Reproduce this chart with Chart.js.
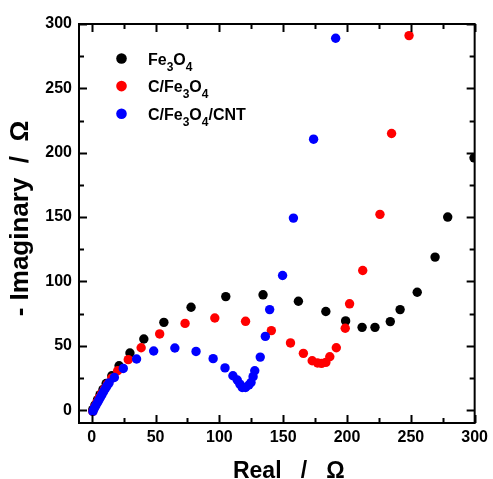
<!DOCTYPE html>
<html>
<head>
<meta charset="utf-8">
<script src="https://cdn.jsdelivr.net/npm/chart.js@4.4.1/dist/chart.umd.min.js"></script>
<style>
  html, body { margin: 0; padding: 0; background: #fff; }
  canvas { display: block; }
</style>
</head>
<body>
<canvas id="nyquist" width="493" height="479"></canvas>
<script>
// Nyquist data: real part (Ω) and negative imaginary part (Ω) for each electrode
const seriesNames = ['Fe3O4', 'C/Fe3O4', 'C/Fe3O4/CNT'];
const seriesColors = ['#000000', '#ff0000', '#0000ff'];

const fe3o4Real = [0.8, 2.5, 4.5, 6.5, 8.8, 11.3, 15.7, 21.4, 29.9, 40.8, 56.5, 77.8, 105, 134.2, 161.9, 183.4, 198.9, 211.8, 221.9, 233.9, 241.6, 255, 269, 278.9, 299.5];
const fe3o4Imag = [0.5, 4, 8, 12, 16, 20.7, 26.7, 34.5, 44.4, 55.3, 68.2, 79.9, 88.2, 89.6, 84.6, 76.6, 69.3, 64.3, 64.3, 68.8, 78.1, 91.6, 118.9, 150, 196];

const cFe3o4Real = [0.8, 2.3, 4, 5.8, 7.8, 10, 12.3, 15.7, 20.3, 28.6, 38.7, 53.2, 73.1, 96.4, 120.5, 140.7, 155.7, 165.8, 172.7, 176.9, 180, 183.4, 186.5, 191.6, 198.6, 202, 212.3, 225.8, 234.9, 248.6];
const cFe3o4Imag = [-1, 2.5, 6, 9.5, 13, 16.5, 20.2, 24.9, 30.6, 39.2, 48.5, 59.2, 67.4, 71.6, 69, 61.8, 52.2, 44.1, 38.4, 36.6, 36.3, 37.1, 41.5, 48.5, 63.6, 82.6, 108.5, 152.1, 214.9, 291];

const cntReal = [0.9, 2.0, 3.2, 4.4, 5.6, 6.8, 8.0, 9.3, 10.6, 12.0, 13.6, 17.7, 24.7, 35.1, 48.5, 65.1, 81.7, 95.1, 104.4, 110.6, 114.0, 116.1, 117.9, 120.5, 123.1, 124.8, 126.4, 127.7, 132, 136, 139.4, 149.5, 158, 173.8, 191.1];
const cntImag = [-1, 1.5, 3.6, 5.7, 7.8, 10, 12.1, 14.4, 16.6, 18.9, 21.2, 25.4, 32.4, 39.7, 45.9, 48.3, 45.6, 40, 32.8, 26.7, 23.4, 20.2, 17.6, 17.6, 19.5, 21.5, 26, 30.6, 41.2, 57.3, 78.1, 104.6, 149.2, 210.5, 288.9];

const xTickValues = [0, 50, 100, 150, 200, 250, 300];
const yTickValues = [0, 50, 100, 150, 200, 250, 300];
const xTitle = 'Real   /   Ω';
const yTitle = '- Imaginary  /  Ω';

const FONT = '"Liberation Sans", Arial, Helvetica, sans-serif';

function toPoints(xs, ys) {
  return xs.map((v, i) => ({ x: v, y: ys[i] }));
}

// Closed frame with inward major/minor ticks on all four sides
const framePlugin = {
  id: 'frame',
  afterDatasetsDraw(chart) {
    const { ctx, chartArea: a, scales: { x, y } } = chart;
    const minorStep = 25, major = 8, minor = 5;
    ctx.save();
    ctx.strokeStyle = '#000';
    ctx.lineWidth = 2;
    ctx.beginPath();
    for (let v = xTickValues[0]; v <= xTickValues[xTickValues.length - 1]; v += minorStep) {
      const px = Math.round(x.getPixelForValue(v)) + 0.5;
      const len = (v % 50 === 0) ? major : minor;
      ctx.moveTo(px, a.bottom); ctx.lineTo(px, a.bottom - len);
      ctx.moveTo(px, a.top); ctx.lineTo(px, a.top + len);
    }
    for (let v = yTickValues[0]; v <= yTickValues[yTickValues.length - 1]; v += minorStep) {
      const py = Math.round(y.getPixelForValue(v)) + 0.5;
      const len = (v % 50 === 0) ? major : minor;
      ctx.moveTo(a.left, py); ctx.lineTo(a.left + len, py);
      ctx.moveTo(a.right, py); ctx.lineTo(a.right - len, py);
    }
    ctx.stroke();
    ctx.strokeRect(a.left, a.top, a.right - a.left, a.bottom - a.top);
    ctx.restore();
  }
};

// Axis titles
const titlePlugin = {
  id: 'axisTitles',
  afterDraw(chart) {
    const { ctx, chartArea: a } = chart;
    ctx.save();
    ctx.fillStyle = '#000';
    ctx.textAlign = 'center';
    ctx.textBaseline = 'alphabetic';
    ctx.font = 'bold 23px ' + FONT;
    ctx.fillText(xTitle, (a.left + a.right) / 2 + 12, 478);
    ctx.font = 'bold 26px ' + FONT;
    ctx.translate(28, (a.top + a.bottom) / 2 - 5);
    ctx.rotate(-Math.PI / 2);
    ctx.fillText(yTitle, 0, 0);
    ctx.restore();
  }
};

// Legend with subscripted digits in the formula names
const legendPlugin = {
  id: 'formulaLegend',
  afterDraw(chart) {
    const { ctx } = chart;
    const markX = 121.5, textX = 148, firstBase = 64.5, rowGap = 27.6;
    ctx.save();
    chart.data.datasets.forEach((ds, i) => {
      const base = firstBase + i * rowGap;
      ctx.fillStyle = ds.backgroundColor;
      ctx.beginPath();
      ctx.arc(markX, base - 6, 5.3, 0, Math.PI * 2);
      ctx.fill();
      ctx.fillStyle = '#000';
      ctx.textAlign = 'left';
      ctx.textBaseline = 'alphabetic';
      let cx = textX;
      for (const ch of ds.label) {
        const sub = /[0-9]/.test(ch);
        ctx.font = sub ? 'bold 12px ' + FONT : 'bold 16px ' + FONT;
        ctx.fillText(ch, cx, sub ? base + 6 : base);
        cx += ctx.measureText(ch).width;
      }
    });
    ctx.restore();
  }
};

const tickFont = { family: FONT, size: 16, weight: 'bold' };

new Chart(document.getElementById('nyquist'), {
  type: 'scatter',
  data: {
    datasets: [
      { label: seriesNames[0], data: toPoints(fe3o4Real, fe3o4Imag), backgroundColor: seriesColors[0], order: 3 },
      { label: seriesNames[1], data: toPoints(cFe3o4Real, cFe3o4Imag), backgroundColor: seriesColors[1], order: 2 },
      { label: seriesNames[2], data: toPoints(cntReal, cntImag), backgroundColor: seriesColors[2], order: 1 }
    ].map(d => Object.assign(d, { pointRadius: 4.7, borderWidth: 0, pointBorderWidth: 0, clip: 0, showLine: false }))
  },
  options: {
    responsive: false,
    animation: false,
    devicePixelRatio: 1,
    layout: { padding: { top: 24, right: 15, left: 0, bottom: 0 } },
    plugins: { legend: { display: false }, tooltip: { enabled: false } },
    scales: {
      x: {
        type: 'linear', min: -10, max: 300,
        afterBuildTicks(s) { s.ticks = xTickValues.map(v => ({ value: v })); },
        afterFit(s) { s.height = 56; },
        grid: { display: false, drawTicks: false },
        border: { display: false },
        ticks: { padding: 5, font: tickFont, color: '#000', maxRotation: 0, autoSkip: false }
      },
      y: {
        type: 'linear', min: -10, max: 300,
        afterBuildTicks(s) { s.ticks = yTickValues.map(v => ({ value: v })); },
        afterFit(s) { s.width = 79; },
        grid: { display: false, drawTicks: false },
        border: { display: false },
        ticks: { padding: 7, font: tickFont, color: '#000', autoSkip: false }
      }
    }
  },
  plugins: [framePlugin, titlePlugin, legendPlugin]
});
</script>
</body>
</html>
